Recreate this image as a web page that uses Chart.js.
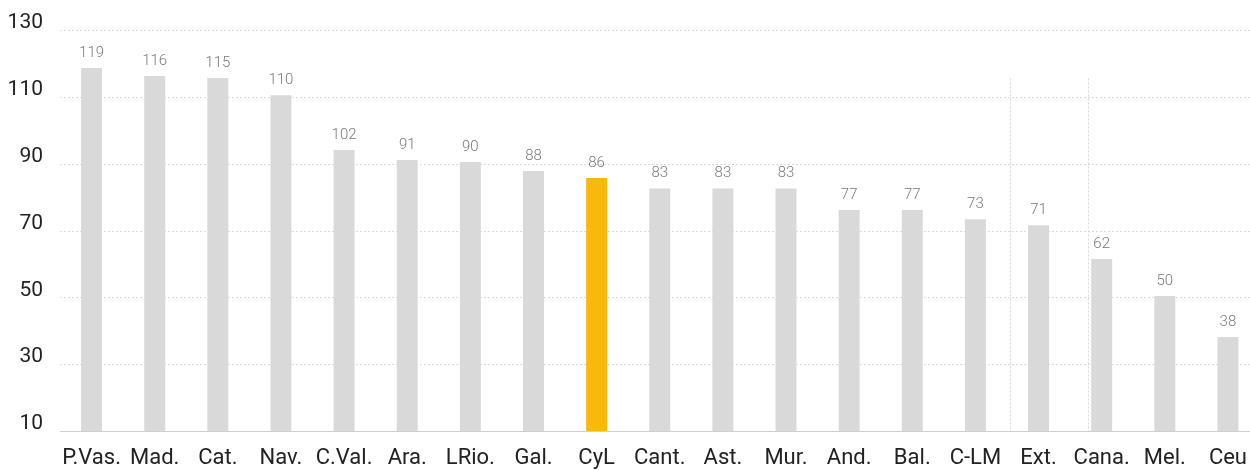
<!DOCTYPE html>
<html>
<head>
<meta charset="utf-8">
<script src="https://cdn.jsdelivr.net/npm/chart.js@4/dist/chart.umd.min.js"></script>
<style>
  html, body { margin: 0; padding: 0; background: #fff; overflow: hidden; width: 1250px; height: 470px; }
  #wrap { position: absolute; left: 0; top: 0; width: 1261px; height: 470px; }
</style>
</head>
<body>
<div id="wrap"><canvas id="c"></canvas></div>
<script>
const categories = ['P.Vas.','Mad.','Cat.','Nav.','C.Val.','Ara.','LRio.','Gal.','CyL','Cant.','Ast.','Mur.','And.','Bal.','C-LM','Ext.','Cana.','Mel.','Ceu'];
const barValues = [118.6,116.2,115.6,110.5,94.1,91.1,90.5,87.8,85.7,82.6,82.6,82.6,76.1,76.1,73.4,71.6,61.5,50.4,38.1];
const labelValues = [119,116,115,110,102,91,90,88,86,83,83,83,77,77,73,71,62,50,38];
const highlight = 'CyL';
const yTicks = [10,30,50,70,90,110,130];
const dividerIndex = [14.54, 15.79];
const dividerTop = 115.5;

const GRAY = '#d9d9d9', YELLOW = '#f8b90c';

const valueLabels = {
  id: 'valueLabels',
  afterDatasetsDraw(chart) {
    const ctx = chart.ctx;
    const meta = chart.getDatasetMeta(0);
    ctx.save();
    ctx.font = '300 15px "Liberation Sans Narrow", "Roboto", sans-serif';
    ctx.fillStyle = '#7a7a7a';
    ctx.textAlign = 'center';
    ctx.textBaseline = 'alphabetic';
    meta.data.forEach((bar, i) => {
      ctx.fillText(String(labelValues[i]), bar.x, bar.y - 11);
    });
    ctx.restore();
  }
};

const guides = {
  id: 'guides',
  beforeDatasetsDraw(chart) {
    const x = chart.scales.x, y = chart.scales.y, ctx = chart.ctx;
    ctx.save();
    ctx.lineWidth = 1;
    ctx.strokeStyle = '#d9d9d9';
    ctx.setLineDash([2, 2]);
    yTicks.forEach(v => {
      if (v === yTicks[0]) return;
      const py = Math.round(y.getPixelForValue(v)) + 0.5;
      ctx.beginPath();
      ctx.moveTo(x.left, py);
      ctx.lineTo(x.right, py);
      ctx.stroke();
    });
    ctx.strokeStyle = '#d6d6d6';
    dividerIndex.forEach(v => {
      const i = Math.floor(v), f = v - i;
      const p0 = x.getPixelForValue(i), p1 = x.getPixelForValue(i + 1);
      const px = Math.round(p0 + (p1 - p0) * f) + 0.5;
      ctx.beginPath();
      ctx.moveTo(px, y.getPixelForValue(dividerTop));
      ctx.lineTo(px, y.bottom);
      ctx.stroke();
    });
    ctx.setLineDash([]);
    ctx.strokeStyle = '#cfcfcf';
    const pb = Math.round(y.bottom) + 0.5;
    ctx.beginPath();
    ctx.moveTo(x.left, pb);
    ctx.lineTo(x.right, pb);
    ctx.stroke();
    ctx.restore();
  }
};

new Chart(document.getElementById('c'), {
  type: 'bar',
  data: {
    labels: categories,
    datasets: [{
      data: barValues,
      backgroundColor: categories.map(c => c === highlight ? YELLOW : GRAY),
      borderWidth: 0,
      categoryPercentage: 1,
      barPercentage: 0.332
    }]
  },
  options: {
    responsive: true,
    maintainAspectRatio: false,
    animation: false,
    devicePixelRatio: 1,
    layout: { padding: { top: 30, right: 0, left: 0, bottom: 0 } },
    plugins: { legend: { display: false }, tooltip: { enabled: false } },
    scales: {
      x: {
        grid: { display: false, drawTicks: false },
        border: { display: false },
        ticks: {
          color: '#222',
          font: { family: 'Roboto, sans-serif', size: 22 },
          padding: 14,
          maxRotation: 0,
          autoSkip: false
        },
        afterFit(scale) { scale.height = 39; }
      },
      y: {
        min: 10, max: 130,
        afterBuildTicks(scale) { scale.ticks = yTicks.map(v => ({ value: v })); },
        grid: { display: false, drawTicks: false },
        border: { display: false },
        ticks: {
          color: '#222',
          font: { family: 'Roboto, sans-serif', size: 21 },
          padding: 17,
          labelOffset: -7
        },
        afterFit(scale) { scale.width = 60; }
      }
    }
  },
  plugins: [guides, valueLabels]
});
</script>
</body>
</html>
